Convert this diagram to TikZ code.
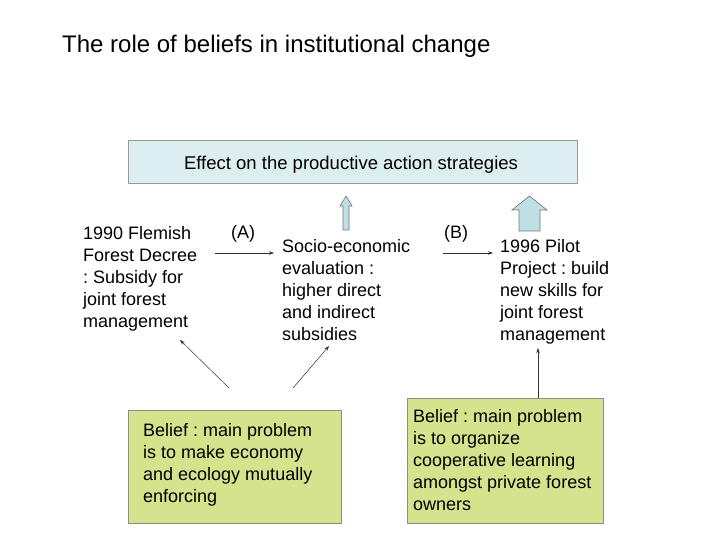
\documentclass[tikz,border=0pt]{standalone}
\usepackage{fontspec}
\setmainfont{Liberation Sans}
\usetikzlibrary{arrows.meta}
\frenchspacing
\begin{document}
\begin{tikzpicture}[x=1pt,y=-1pt,
  body/.style={inner sep=0pt,align=left,anchor=base west,font=\fontsize{18}{22}\selectfont},
  lbl/.style={inner sep=0pt,anchor=base west,font=\fontsize{18}{22}\selectfont},
  conn/.style={draw=black!80,line width=0.5pt,-{Stealth[length=5pt,width=3.5pt]}},
  blockarrow/.style={fill=arrowblue,draw=black!55,line width=0.6pt},
  beliefbox/.style={fill=beliefgreen,draw=black!45,line width=0.6pt}]
\definecolor{topblue}{RGB}{221,238,241}
\definecolor{arrowblue}{RGB}{190,224,228}
\definecolor{beliefgreen}{RGB}{213,228,140}
\useasboundingbox (0,0) rectangle (720,540);
% title
\node[inner sep=0pt,anchor=base west,font=\fontsize{24}{28}\selectfont] (title) at (62,53) {The role of beliefs in institutional change};
% top box
\path[draw=black!40,fill=topblue,line width=0.6pt] (128,140) rectangle (577,183);
\node[inner sep=0pt,anchor=base,font=\fontsize{18.5}{22}\selectfont] (effect) at (351,169.5) {Effect on the productive action strategies};
% block arrows
\draw[blockarrow] (343,230) -- (343,206) -- (340,206) -- (346,196) -- (352,206) -- (349,206) -- (349,230) -- cycle;
\draw[blockarrow] (519,231) -- (519,210) -- (512,210) -- (529.5,196) -- (547,210) -- (540,210) -- (540,231) -- cycle;
% texts (base anchor = last line baseline)
\node[body] (decree) at (83,327) {1990 Flemish\\Forest Decree\\: Subsidy for\\joint forest\\management};
\node[lbl] (A) at (231,239) {(A)};
\node[body] (socio) at (282,340) {Socio-economic\\evaluation :\\higher direct\\and indirect\\subsidies};
\node[lbl] (B) at (444,239) {(B)};
\node[body] (pilot) at (500,340) {1996 Pilot\\Project : build\\new skills for\\joint forest\\management};
% horizontal connectors
\coordinate (a1) at (215,253);
\coordinate (a2) at (274,253);
\coordinate (b1) at (443,253);
\coordinate (b2) at (493,253);
\draw[conn] (a1) -- (a2);
\draw[conn] (b1) -- (b2);
% belief boxes
\path[beliefbox] (128,410) rectangle (341,523);
\node[body] (belief1) at (143,502) {Belief : main problem\\is to make economy\\and ecology mutually\\enforcing};
\path[beliefbox] (407,398) rectangle (603,523);
\node[body] (belief2) at (413,510) {Belief : main problem\\is to organize\\cooperative learning\\amongst private forest\\owners};
% belief connectors
\coordinate (c1s) at (229,388);
\coordinate (c1e) at (180,340);
\coordinate (c2s) at (293,388);
\coordinate (c2e) at (329,346);
\coordinate (c3s) at (538,398);
\coordinate (c3e) at (538,348);
\draw[conn] (c1s) -- (c1e);
\draw[conn] (c2s) -- (c2e);
\draw[conn] (c3s) -- (c3e);
\end{tikzpicture}
\end{document}
